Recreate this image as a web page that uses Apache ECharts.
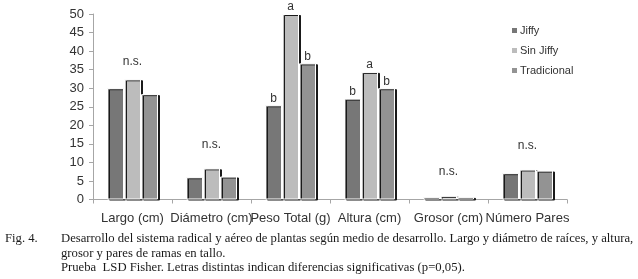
<!DOCTYPE html>
<html>
<head>
<meta charset="utf-8">
<script src="https://cdn.jsdelivr.net/npm/echarts@6/dist/echarts.min.js"></script>
<style>
  html, body { margin: 0; padding: 0; background: #fff; }
  #chart { width: 638px; height: 279px; }
</style>
</head>
<body>
<div id="chart"></div>
<script>
// datos
const categories = ['Largo (cm)', 'Diámetro (cm)', 'Peso Total (g)', 'Altura (cm)', 'Grosor (cm)', 'Número Pares'];
const seriesNames = ['Jiffy', 'Sin Jiffy', 'Tradicional'];
const jiffy = [30.0, 6.0, 25.4, 27.2, 0.7, 7.1];
const sinJiffy = [32.4, 8.4, 50.0, 34.4, 1.0, 8.1];
const tradicional = [28.4, 6.2, 36.7, 30.0, 0.7, 7.8];
// letras de significancia (LSD Fisher)
const sigJiffy = ['', '', 'b', 'b', '', ''];
const sigSinJiffy = ['n.s.', 'n.s.', 'a', 'a', 'n.s.', 'n.s.'];
const sigTradicional = ['', '', 'b', 'b', '', ''];
const yTicks = { min: 0, max: 50, interval: 5 };

const captionFig = 'Fig. 4.';
const captionLines = [
  'Desarrollo del sistema radical y aéreo de plantas según medio de desarrollo. Largo y diámetro de raíces, y altura,',
  'grosor y pares de ramas en tallo.',
  'Prueba  LSD Fisher. Letras distintas indican diferencias significativas (p=0,05).'
];

const colors = ['#777777', '#bcbcbc', '#939393'];
const labelFont = { color: '#333', fontSize: 12, fontFamily: 'Liberation Sans, Arial, sans-serif' };
const captionFont = '12.7px "Liberation Serif", "Times New Roman", serif';

function withLabels(values, sig) {
  return values.map((v, i) => {
    const txt = sig[i];
    const ns = txt === 'n.s.';
    return {
      value: v,
      label: {
        show: txt !== '',
        formatter: txt,
        position: 'top',
        distance: ns ? (i === 0 ? 12 : 18) : 1
      }
    };
  });
}

const myChart = echarts.init(document.getElementById('chart'), null, { renderer: 'canvas' });

const barStyle = (c) => ({
  color: c,
  borderColor: '#fff',
  borderWidth: 1,
  shadowColor: '#1a1a1a',
  shadowBlur: 0,
  shadowOffsetX: 2,
  shadowOffsetY: 1
});

const option = {
  animation: false,
  color: colors,
  textStyle: { fontFamily: 'Liberation Sans, Arial, sans-serif' },
  grid: { left: 93, right: 71, top: 14, bottom: 79.5, containLabel: false },
  legend: {
    orient: 'vertical',
    left: 507,
    top: 20,
    itemWidth: 5,
    itemHeight: 5,
    itemGap: 9,
    icon: 'rect',
    data: seriesNames,
    textStyle: { color: '#333', fontSize: 11, padding: [0, 0, 0, -2] },
    itemStyle: { borderWidth: 0, shadowColor: 'transparent', shadowOffsetX: 0, shadowOffsetY: 0 }
  },
  xAxis: {
    type: 'category',
    data: categories,
    axisLine: { lineStyle: { color: '#a6a6a6', width: 1 } },
    axisTick: { show: true, length: 4, lineStyle: { color: '#a6a6a6' } },
    axisLabel: { interval: 0, color: '#333', fontSize: 13, margin: 12 },
    splitLine: { show: false }
  },
  yAxis: {
    type: 'value',
    min: yTicks.min,
    max: yTicks.max,
    interval: yTicks.interval,
    axisLine: { show: true, lineStyle: { color: '#a6a6a6', width: 1 } },
    axisTick: { show: true, length: 4, lineStyle: { color: '#a6a6a6' } },
    axisLabel: { color: '#333', fontSize: 13, margin: 9 },
    splitLine: { show: false }
  },
  series: [
    { name: seriesNames[0], type: 'bar', barWidth: 17, barGap: '0%', data: withLabels(jiffy, sigJiffy), itemStyle: barStyle(colors[0]), label: labelFont },
    { name: seriesNames[1], type: 'bar', barWidth: 17, barGap: '0%', data: withLabels(sinJiffy, sigSinJiffy), itemStyle: barStyle(colors[1]), label: labelFont },
    { name: seriesNames[2], type: 'bar', barWidth: 17, barGap: '0%', data: withLabels(tradicional, sigTradicional), itemStyle: barStyle(colors[2]), label: labelFont }
  ],
  graphic: [
    { type: 'text', left: 5, top: 232.5, style: { text: captionFig, font: captionFont, fill: '#1a1a1a' } },
    { type: 'text', left: 61, top: 232.5, style: { text: captionLines[0], font: captionFont, fill: '#1a1a1a' } },
    { type: 'text', left: 61, top: 247.5, style: { text: captionLines[1], font: captionFont, fill: '#1a1a1a' } },
    { type: 'text', left: 61, top: 261.5, style: { text: captionLines[2], font: captionFont, fill: '#1a1a1a' } }
  ]
};

myChart.setOption(option);
window.addEventListener('resize', () => myChart.resize());
</script>
</body>
</html>
